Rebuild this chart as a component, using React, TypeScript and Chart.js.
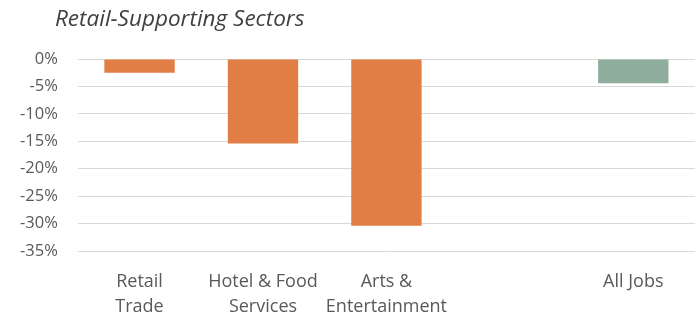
import React, { useEffect, useRef } from "react";
import { Chart, registerables } from "chart.js";

Chart.register(...registerables);

const categories: (string | string[])[] = [
  ["Retail", "Trade"],
  ["Hotel & Food", "Services"],
  ["Arts &", "Entertainment"],
  "",
  "All Jobs",
];
const values: (number | null)[] = [-2.5, -15.4, -30.4, null, -4.4];
const barColors = ["#E07E45", "#E07E45", "#E07E45", "#E07E45", "#8FAD9D"];
const yTicks = [0, -5, -10, -15, -20, -25, -30, -35];
const subtitle = "Retail-Supporting Sectors";

export default function App() {
  const ref = useRef<HTMLCanvasElement | null>(null);
  useEffect(() => {
    document.body.style.margin = "0";
    const ctx = ref.current!;
    const chart = new Chart(ctx, {
      type: "bar",
      data: {
        labels: categories,
        datasets: [
          {
            data: values,
            backgroundColor: barColors,
            borderWidth: 0,
            categoryPercentage: 1,
            barPercentage: 0.57,
          },
        ],
      },
      options: {
        animation: false,
        responsive: false,
        maintainAspectRatio: false,
        layout: { padding: { top: 59, right: 2, left: 0, bottom: 0 } },
        plugins: { legend: { display: false }, tooltip: { enabled: false } },
        scales: {
          x: {
            grid: { display: false },
            border: { display: false },
            afterFit: (axis: any) => {
              axis.height = 65;
            },
            ticks: {
              color: "#595959",
              font: { family: "Open Sans", size: 18, lineHeight: 1.4 },
              padding: 10,
              maxRotation: 0,
              autoSkip: false,
            },
          },
          y: {
            min: -35,
            max: 0,
            afterBuildTicks: (axis: any) => {
              axis.ticks = yTicks.map((v) => ({ value: v }));
            },
            grid: { color: "#D9D9D9", drawTicks: false, lineWidth: 1 },
            border: { display: false },
            ticks: {
              color: "#595959",
              font: { family: "Open Sans", size: 16.5 },
              padding: 20,
              callback: (v: any) => `${v}%`,
            },
          },
        },
      },
    });
    return () => chart.destroy();
  }, []);
  return (
    <div style={{ position: "relative", width: 697, height: 316, background: "#fff" }}>
      <div
        style={{
          position: "absolute",
          left: 55,
          top: 2,
          fontFamily: "Open Sans",
          fontStyle: "italic",
          fontSize: 22.5,
          color: "#404040",
          lineHeight: "32px",
        }}
      >
        {subtitle}
      </div>
      <canvas ref={ref} width={697} height={316} style={{ display: "block" }} />
    </div>
  );
}
